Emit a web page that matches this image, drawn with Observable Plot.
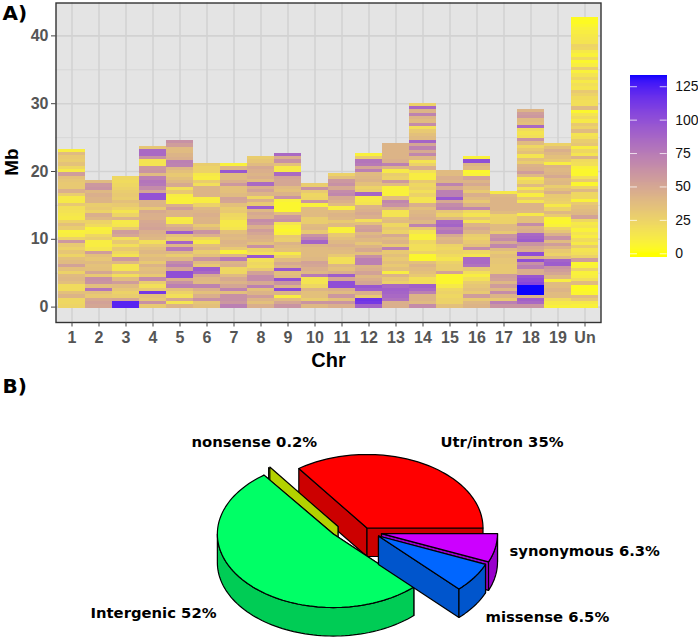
<!DOCTYPE html>
<html><head><meta charset="utf-8">
<script src="https://cdn.jsdelivr.net/npm/d3@7"></script>
<script src="https://cdn.jsdelivr.net/npm/@observablehq/plot@0.6"></script>
<style>
html,body{margin:0;padding:0;background:#fff}
#chart{position:relative;width:698px;height:639px;overflow:hidden}
#chart svg{display:block;background:transparent;max-width:none}
#legend{position:absolute;left:620px;top:65px}
#pie{position:absolute;left:0;top:370px}
</style></head><body><div id="chart"></div>
<script>
const chrNames = ["1","2","3","4","5","6","7","8","9","10","11","12","13","14","15","16","17","18","19","Un"];
const chrLengths = [23.3,18.7,19.2,23.7,24.6,21.2,21.2,22.2,22.7,18.2,19.75,22.7,24.2,30.1,20.2,22.2,17.1,29.2,24.2,42.7];
// SNP counts in each window along the chromosome, listed from the chromosome end down to 0 Mb
const chr1 = [10,38,30,28,34,22,12,55,35,32,30,30,45,28,12,12,30,18,16,14,12,25,35,28,8,10,25,58,30,25,32,24,35,38,52,35,25,38,40,36,20,20,35,42,22,22,24];
const chr2 = [38,58,60,40,45,42,42,28,30,25,45,40,25,20,8,10,22,28,10,10,14,55,35,32,38,34,35,50,30,62,60,36,78,35,30,48,52,50];
const chr3 = [22,20,22,25,28,30,28,35,30,24,15,24,42,12,14,30,55,50,18,30,18,30,22,15,58,40,15,15,38,18,38,55,38,32,25,28,50,122,122];
const chr4 = [32,85,85,62,15,15,58,60,38,72,78,76,65,50,98,98,42,42,30,48,45,44,48,50,52,45,42,40,18,30,36,40,34,38,30,42,36,38,30,65,28,18,30,112,35,32,62,30];
const chr5 = [62,55,38,38,42,45,72,70,40,35,30,35,40,48,18,30,10,8,8,45,55,42,42,10,12,42,50,92,35,28,88,40,75,40,28,40,65,72,50,100,100,45,62,72,35,25,18,50,15,42];
const chr6 = [28,25,25,12,10,28,18,42,42,42,10,10,25,40,42,45,42,42,30,38,60,45,22,12,35,40,28,35,60,38,30,92,85,48,40,38,70,45,35,45,62,32,35];
const chr7 = [8,42,95,38,38,45,58,35,35,38,52,50,35,28,30,22,20,12,12,15,35,40,38,42,40,30,8,40,75,42,45,22,22,38,48,42,50,70,35,62,62,58,72];
const chr8 = [28,32,38,48,45,42,45,38,85,45,52,42,22,45,30,92,40,48,45,65,60,45,55,50,45,42,35,62,25,18,95,18,22,20,30,52,65,65,48,72,35,42,55,42,35,45];
const chr9 = [85,45,62,35,12,12,85,52,50,50,38,35,42,60,8,5,5,5,38,58,62,15,8,5,8,30,28,42,38,35,12,25,38,48,42,95,35,38,98,60,42,102,42,10,38,50,60];
const chr10 = [28,62,30,22,24,60,8,38,38,38,28,28,38,40,30,60,70,88,42,38,38,38,40,52,50,45,40,75,15,15,22,42,35,35,28,60,40];
const chr11 = [25,35,58,62,48,65,68,48,45,38,10,38,42,40,30,38,8,8,30,35,40,45,40,38,30,18,18,40,35,45,92,50,100,100,45,38,58,35,60,45];
const chr12 = [8,28,78,75,50,72,38,40,42,35,25,28,88,12,12,15,42,45,48,45,18,35,52,55,40,45,40,32,42,48,35,62,72,72,42,45,52,40,45,50,95,90,45,30,115,112,88];
const chr13 = [42,42,42,42,42,45,72,42,12,28,25,58,38,8,8,8,38,68,62,42,15,15,35,38,22,30,25,48,38,42,30,72,30,35,30,35,30,35,10,42,32,25,85,90,88,85,80,45,45];
const chr14 = [25,85,42,70,42,38,65,18,30,35,38,88,50,70,48,68,40,15,25,45,18,10,10,30,22,25,18,25,15,15,45,35,40,42,45,40,70,30,15,8,8,22,18,18,25,5,5,35,42,38,35,30,18,18,90,85,72,42,42,38,65];
const chr15 = [38,38,45,42,70,48,72,72,95,48,65,70,32,25,40,85,88,72,78,48,40,42,25,22,25,20,15,25,28,28,52,5,5,5,12,22,25,22,25,25,35];
const chr16 = [8,100,42,38,5,8,52,42,48,38,30,45,38,30,42,68,22,15,32,15,42,48,42,28,25,30,35,65,22,15,85,85,80,32,18,10,18,28,32,35,30,55,30,40,42];
const chr17 = [12,40,42,42,42,42,38,24,25,25,38,38,30,60,65,48,68,38,30,35,32,32,30,30,30,55,52,40,55,40,65,42,30,72,60];
const chr18 = [42,55,58,38,35,85,20,15,18,60,38,22,30,35,15,35,28,42,45,55,40,15,22,38,15,30,10,30,15,42,42,40,12,35,35,65,42,45,85,88,92,60,48,45,100,42,100,62,72,45,45,95,100,105,133,133,133,42,90,85,60];
const chr19 = [25,35,45,40,35,30,10,42,40,42,48,38,40,28,35,45,30,28,25,12,25,40,30,8,5,8,25,32,45,62,38,55,42,30,25,38,88,92,60,55,50,40,10,38,38,42,38,38,20,12,8];
const chrUn = [3,3,5,8,10,12,14,15,24,22,12,8,20,5,10,28,8,15,22,12,18,15,30,25,20,18,18,38,5,15,20,12,30,25,38,15,18,28,32,10,22,15,42,20,18,8,5,5,18,30,5,25,40,22,22,8,30,35,38,40,52,22,12,15,8,15,10,20,12,28,15,18,25,55,5,8,25,8,10,18,38,3,3,5,38,30,12,8];
const chrValues = [chr1,chr2,chr3,chr4,chr5,chr6,chr7,chr8,chr9,chr10,chr11,chr12,chr13,chr14,chr15,chr16,chr17,chr18,chr19,chrUn];
const colorTicks = [0,25,50,75,100,125];
const majorY = [0,10,20,30,40], minorY = [5,15,25,35];

// Pie slices clockwise from 3 o'clock
const sliceNames = ["synonymous","missense","Intergenic","nonsense","Utr/intron"];
const slicePct = [6.3,6.5,52,0.2,35];
const sliceTop = ["#cc00ff","#0066ff","#00ff66","#b3d100","#ff0000"];
const sliceWall = ["#9900cc","#0055cc","#00cc55","#b3d100","#cc0000"];
const sliceDx = [0.125,0.099,-0.29,-0.25,0];
const sliceDy = [0.076,0.109,0.082,-0.02,0];
const sliceLabels = ["synonymous 6.3%","missense 6.5%","Intergenic 52%","nonsense 0.2%","Utr/intron 35%"];
const labelLeft = [509,485,90,191,440];
const labelMid = [181,247,243,72,72];
const drawOrder = [4,3,2,0,1];
const depth = 0.388;

const sans = "'Liberation Sans',Arimo,Helvetica,Arial,sans-serif";
const deja = "'DejaVu Sans',Verdana,sans-serif";
const colorScale = {type:"linear",domain:[0,133.4],range:["#ffff00","#0000ff"],interpolate:d3.interpolateLab};

const base = -0.17;
const cells = chrValues.flatMap((vals,c)=>{
  const h = (chrLengths[c]-base)/vals.length;
  return vals.map((v,i)=>({chr:chrNames[c],v,y2:chrLengths[c]-i*h,y1:chrLengths[c]-(i+1)*h}));
});

const heatPlot = Plot.plot({
  width:698,height:376,marginLeft:55.5,marginRight:97.5,marginTop:2.5,marginBottom:54,
  style:{background:"transparent"},
  x:{domain:chrNames,range:[57.5,598],padding:0,label:null},
  y:{domain:[-2.27,44.85],label:null},
  color:colorScale,
  marks:[
    Plot.frame({fill:"#e4e4e4",stroke:null}),
    Plot.ruleY(minorY,{stroke:"#d6d6d6",strokeWidth:0.9}),
    Plot.ruleY(majorY,{stroke:"#d2d2d2",strokeWidth:1.6}),
    Plot.ruleX(chrNames,{x:d=>d,stroke:"#d2d2d2",strokeWidth:1.6}),
    Plot.barY(cells,{x:"chr",y1:"y1",y2:"y2",fill:"v",inset:0,shapeRendering:"crispEdges",imageFilter:"blur(0.45px)"}),
    Plot.frame({stroke:"#333333",strokeWidth:1.4}),
    Plot.axisX({anchor:"bottom",tickSize:4.5,tickPadding:5,stroke:"#444",fill:"#555",fontSize:16,fontWeight:"bold",fontFamily:sans,label:null}),
    Plot.axisY({anchor:"left",ticks:majorY,tickSize:4.5,tickPadding:3,stroke:"#444",fill:"#555",fontSize:16,fontWeight:"bold",fontFamily:sans,label:null}),
    Plot.text(["Chr"],{frameAnchor:"top-left",lineAnchor:"middle",dx:272.5,dy:358,textAnchor:"middle",fontSize:20,fontWeight:"bold",fontFamily:sans,fill:"#000"}),
    Plot.text(["Mb"],{frameAnchor:"top-left",lineAnchor:"middle",dx:-44,dy:159,rotate:-90,textAnchor:"middle",fontSize:19,fontWeight:"bold",fontFamily:sans,fill:"#000"}),
    Plot.text(["A)"],{frameAnchor:"top-left",lineAnchor:"middle",dx:-53.5,dy:11,textAnchor:"start",fontSize:20,fontWeight:"bold",fontFamily:deja,fill:"#000"})
  ]
});

const legendPlot = Plot.plot({
  width:78,height:230,marginLeft:10,marginRight:31.3,marginTop:10,marginBottom:37.7,
  style:{background:"transparent"},
  x:{domain:[0,1],axis:null},
  y:{domain:[-3,133.4],axis:null},
  color:colorScale,
  marks:[
    Plot.rect(d3.range(-3,133.4,0.7),{x1:0,x2:1,y1:d=>d,y2:d=>d+0.8,fill:d=>Math.max(0,d),shapeRendering:"crispEdges"}),
    Plot.ruleY(colorTicks,{x1:0,x2:0.19,stroke:"#fff",strokeOpacity:0.75,strokeWidth:1}),
    Plot.ruleY(colorTicks,{x1:0.81,x2:1,stroke:"#fff",strokeOpacity:0.75,strokeWidth:1}),
    Plot.text(colorTicks,{x:1,y:d=>d,dx:8,textAnchor:"start",text:d=>String(d),fontSize:14,fontFamily:sans,fill:"#111"})
  ]
});

// 3-D pie: faces are derived from the percentages
let cum = 0;
const slices = slicePct.map((p,i)=>{
  const a0 = cum*3.6; cum += p; const a1 = cum*3.6;
  return {i,a0,a1,dx:sliceDx[i],dy:sliceDy[i]};
});
const rimPoint = (s,t,d=0)=>({x:s.dx+Math.cos(t*Math.PI/180),y:s.dy+d+Math.sin(t*Math.PI/180)});
const apexPoint = (s,d=0)=>({x:s.dx,y:s.dy+d});
const arcPoints = (s,a,b,d=0)=>{const n=Math.max(2,Math.ceil(Math.abs(b-a)/2));return d3.range(n+1).map(k=>rimPoint(s,a+(b-a)*k/n,d));};
const closeRing = pts=>[...pts,pts[0]];
const face = (pts,fill)=>Plot.line(closeRing(pts),{x:"x",y:"y",fill,stroke:"#000",strokeWidth:1.2,strokeLinejoin:"round"});
const pieMarks = drawOrder.flatMap(idx=>{
  const s = slices[idx], wall = sliceWall[idx];
  const out = [
    face([apexPoint(s),rimPoint(s,s.a0),rimPoint(s,s.a0,depth),apexPoint(s,depth)],wall),
    face([apexPoint(s),rimPoint(s,s.a1),rimPoint(s,s.a1,depth),apexPoint(s,depth)],wall)
  ];
  const lo = Math.max(s.a0,0), hi = Math.min(s.a1,180);
  if (hi>lo) out.push(face([...arcPoints(s,lo,hi),...arcPoints(s,hi,lo,depth)],wall));
  if (idx!==3) out.push(face([apexPoint(s),...arcPoints(s,s.a0,s.a1)],sliceTop[idx]));
  return out;
});

const piePlot = Plot.plot({
  width:698,height:269,margin:0,
  style:{background:"transparent"},
  x:{domain:[-1,1],range:[250.5,482.5],axis:null},
  y:{domain:[-1,1],range:[84,231],axis:null},
  marks:[
    ...pieMarks,
    ...sliceLabels.map((t,i)=>Plot.text([t],{frameAnchor:"top-left",lineAnchor:"middle",dx:labelLeft[i],dy:labelMid[i],textAnchor:"start",fontSize:14.8,fontWeight:"bold",fontFamily:deja,fill:"#000"})),
    Plot.text(["B)"],{frameAnchor:"top-left",lineAnchor:"middle",dx:2,dy:16,textAnchor:"start",fontSize:20,fontWeight:"bold",fontFamily:deja,fill:"#000"})
  ]
});

const root = document.getElementById("chart");
root.append(heatPlot);
const pw = document.createElement("div"); pw.id="pie"; pw.append(piePlot); root.append(pw);
const lg = document.createElement("div"); lg.id="legend"; lg.append(legendPlot); root.append(lg);
</script></body></html>
